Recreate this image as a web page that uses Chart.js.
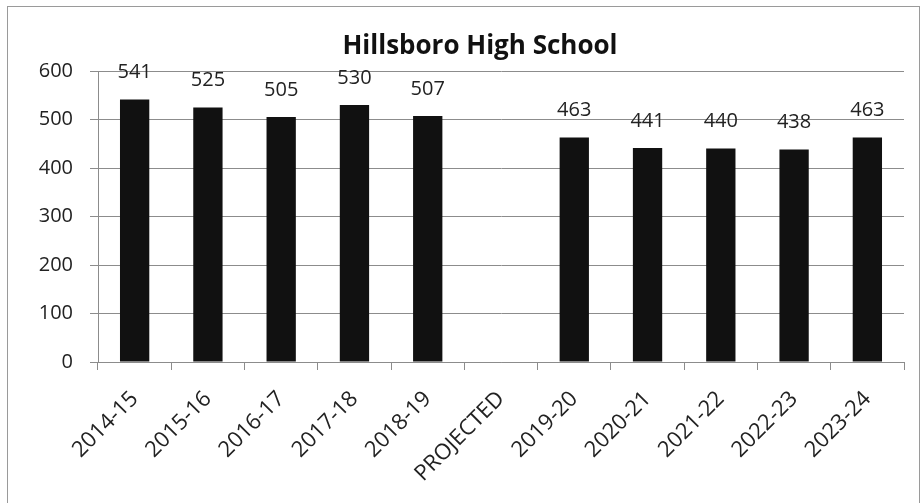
<!DOCTYPE html>
<html>
<head>
<meta charset="utf-8">
<script src="https://cdn.jsdelivr.net/npm/chart.js@4"></script>
<style>
  html, body { margin: 0; padding: 0; background: #fff; }
  #wrap { width: 921px; height: 503px; }
</style>
</head>
<body>
<div id="wrap"><canvas id="enrollChart" width="921" height="503"></canvas></div>
<script>
const years = ["2014-15", "2015-16", "2016-17", "2017-18", "2018-19", "PROJECTED",
               "2019-20", "2020-21", "2021-22", "2022-23", "2023-24"];
const enrollment = [541, 525, 505, 530, 507, null, 463, 441, 440, 438, 463];
const yTicks = [0, 100, 200, 300, 400, 500, 600];
const chartTitle = "Hillsboro High School";

const FONT = "'Open Sans', sans-serif";
const GRID = "#8c8c8c";

// outer frame + title (title sits off-centre like the original)
const framePlugin = {
    id: "frame",
    beforeDraw(chart) {
        const ctx = chart.ctx;
        ctx.save();
        ctx.fillStyle = "#fff";
        ctx.fillRect(0, 0, chart.width, chart.height);
        ctx.strokeStyle = "#9a9a9a";
        ctx.lineWidth = 1;
        ctx.strokeRect(7.5, 6.5, chart.width - 9, chart.height + 10);
        ctx.restore();
    },
    afterDraw(chart) {
        const ctx = chart.ctx;
        ctx.save();
        ctx.font = "bold 26px " + FONT;
        ctx.fillStyle = "#111";
        ctx.textAlign = "center";
        ctx.textBaseline = "middle";
        ctx.fillText(chartTitle, 480, 47);
        ctx.restore();
    }
};

// value labels above each bar
const valueLabels = {
    id: "valueLabels",
    afterDatasetsDraw(chart) {
        const ctx = chart.ctx;
        const meta = chart.getDatasetMeta(0);
        ctx.save();
        ctx.font = "20px " + FONT;
        ctx.fillStyle = "#222";
        ctx.textAlign = "center";
        ctx.textBaseline = "bottom";
        meta.data.forEach((bar, i) => {
            const v = enrollment[i];
            if (v === null) return;
            ctx.fillText(String(v), bar.x, bar.y - 17);
        });
        ctx.restore();
    }
};

new Chart(document.getElementById("enrollChart").getContext("2d"), {
    type: "bar",
    data: {
        labels: years,
        datasets: [{
            data: enrollment,
            backgroundColor: "#111",
            borderWidth: 0,
            barPercentage: 0.4,
            categoryPercentage: 1.0
        }]
    },
    options: {
        responsive: false,
        animation: false,
        layout: { padding: { left: 0, right: 17, top: 71, bottom: 0 } },
        plugins: {
            legend: { display: false },
            tooltip: { enabled: false },
            title: { display: false }
        },
        scales: {
            x: {
                grid: { drawOnChartArea: false, drawTicks: true, tickLength: 8, color: GRID, offset: true },
                border: { color: GRID },
                ticks: {
                    color: "#222",
                    font: { family: FONT, size: 22 },
                    minRotation: 45,
                    maxRotation: 45,
                    autoSkip: false,
                    padding: 16
                },
                afterFit(scale) { scale.height = 141; }
            },
            y: {
                min: 0,
                max: 600,
                afterBuildTicks(scale) { scale.ticks = yTicks.map(v => ({ value: v })); },
                grid: { color: GRID, tickLength: 8 },
                border: { color: GRID },
                ticks: {
                    color: "#222",
                    font: { family: FONT, size: 20 },
                    padding: 17
                },
                afterFit(scale) { scale.width = 98; }
            }
        }
    },
    plugins: [framePlugin, valueLabels]
});
</script>
</body>
</html>
